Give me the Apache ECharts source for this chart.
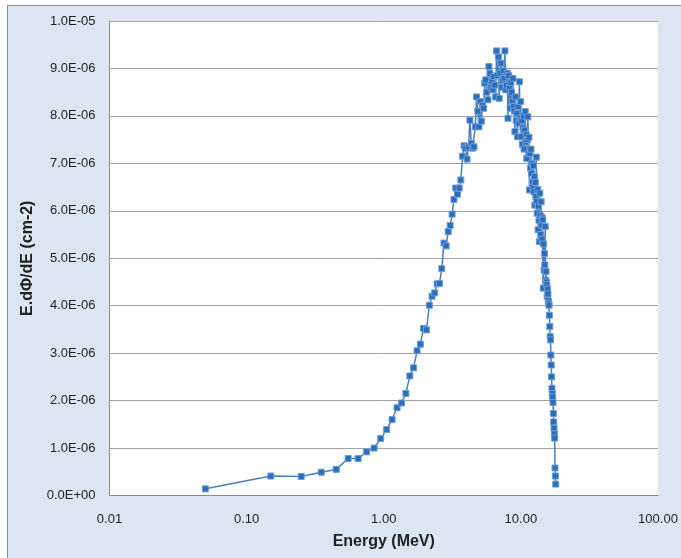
<!DOCTYPE html>
<html>
<head>
    <meta charset="utf-8">
    <title></title>
    <script src="https://cdn.jsdelivr.net/npm/echarts@6/dist/echarts.min.js"></script>
    <style>
        body {
            margin: 0;
            background-color: white;
        }

        .frame {
            position: absolute;
            left: 7px;
            top: 5px;
            width: 700px;
            height: 600px;
            background-color: #dce6f2;
            border-top: 1px solid #8c8c8c;
            border-left: 1px solid #8c8c8c;
        }

        #main {
            position: absolute;
            left: 0;
            top: 0;
            width: 681px;
            height: 558px;
        }
    </style>
</head>
<body>
<div class="frame"></div>
<div id="main"></div>
<script type="text/javascript">
    // 能量 (MeV)
    var energy = [
        0.05, 0.15, 0.25, 0.35, 0.45, 0.55, 0.65, 0.75, 0.85, 0.95,
        1.05, 1.15, 1.25, 1.35, 1.45, 1.55, 1.65, 1.75, 1.85, 1.95,
        2.05, 2.15, 2.25, 2.35, 2.45, 2.55, 2.65, 2.75, 2.85, 2.95,
        3.05, 3.15, 3.25, 3.35, 3.45, 3.55, 3.65, 3.75, 3.85, 3.95,
        4.05, 4.15, 4.25, 4.35, 4.45, 4.55, 4.65, 4.75, 4.85, 4.95,
        5.05, 5.15, 5.25, 5.35, 5.45, 5.55, 5.65, 5.75, 5.85, 5.95,
        6.05, 6.15, 6.25, 6.35, 6.45, 6.55, 6.65, 6.75, 6.85, 6.95,
        7.05, 7.15, 7.25, 7.35, 7.45, 7.55, 7.65, 7.75, 7.85, 7.95,
        8.05, 8.15, 8.25, 8.35, 8.45, 8.55, 8.65, 8.75, 8.85, 8.95,
        9.05, 9.15, 9.25, 9.35, 9.45, 9.55, 9.65, 9.75, 9.85, 9.95,
        10.05, 10.15, 10.25, 10.35, 10.45, 10.55, 10.65, 10.75, 10.85, 10.95,
        11.05, 11.15, 11.25, 11.35, 11.45, 11.55, 11.65, 11.75, 11.85, 11.95,
        12.05, 12.15, 12.25, 12.35, 12.45, 12.55, 12.65, 12.75, 12.85, 12.95,
        13.05, 13.15, 13.25, 13.35, 13.45, 13.55, 13.65, 13.75, 13.85, 13.95,
        14.05, 14.15, 14.25, 14.35, 14.45, 14.55, 14.65, 14.75, 14.85, 14.95,
        15.05, 15.15, 15.25, 15.35, 15.45, 15.55, 15.65, 15.75, 15.85, 15.95,
        16.05, 16.15, 16.25, 16.35, 16.45, 16.55, 16.65, 16.75, 16.85, 16.95,
        17.05, 17.15, 17.25, 17.35, 17.45, 17.55, 17.65, 17.75, 17.85, 17.95
    ];

    // E.dΦ/dE，单位 1E-06 cm-2
    var flux = [
        0.14, 0.41, 0.40, 0.49, 0.55, 0.78, 0.78, 0.92, 1.00, 1.20,
        1.39, 1.60, 1.85, 1.95, 2.15, 2.52, 2.69, 3.05, 3.19, 3.52,
        3.49, 4.01, 4.20, 4.27, 4.46, 4.47, 4.78, 5.32, 5.26, 5.56,
        5.69, 5.93, 6.24, 6.48, 6.35, 6.48, 6.65, 7.15, 7.37, 7.32,
        7.09, 7.34, 7.91, 7.42, 7.32, 7.35, 7.77, 8.40, 8.10, 7.77,
        8.30, 7.89, 8.22, 8.16, 8.69, 8.76, 8.50, 8.34, 9.04, 8.90,
        8.60, 8.72, 8.55, 8.83, 8.65, 8.40, 9.37, 8.85, 9.24, 8.37,
        8.90, 9.11, 8.60, 8.75, 8.95, 8.80, 9.37, 8.55, 8.65, 8.90,
        7.95, 8.85, 8.60, 8.16, 8.70, 8.50, 8.30, 8.79, 8.20, 8.10,
        7.67, 8.40, 7.90, 8.05, 7.56, 8.20, 7.85, 8.72, 7.95, 8.30,
        7.56, 7.90, 7.40, 7.75, 8.00, 7.30, 7.70, 8.09, 7.45, 7.60,
        7.10, 7.50, 7.98, 7.20, 7.55, 6.44, 7.21, 6.90, 7.30, 6.79,
        7.00, 6.60, 6.50, 6.95, 6.40, 6.72, 6.12, 6.60, 6.30, 7.13,
        6.20, 5.95, 6.45, 5.60, 6.10, 5.80, 5.35, 6.37, 5.90, 5.50,
        6.19, 5.70, 5.40, 5.85, 5.81, 4.37, 5.30, 4.75, 5.10, 4.86,
        5.67, 4.54, 4.72, 4.50, 4.44, 4.19, 4.35, 4.25, 4.10, 4.05,
        4.01, 3.80, 3.56, 3.35, 3.28, 2.96, 2.75, 2.50, 2.26, 2.15,
        2.08, 1.96, 1.73, 1.55, 1.42, 1.30, 1.21, 0.58, 0.41, 0.24
    ];

    var xTicks = [0.01, 0.1, 1, 10, 100];

    var points = [];
    for (var i = 0; i < energy.length; i++) {
        points.push([energy[i], flux[i]]);
    }

    // 科学计数法标签 1.0E-05
    function sciLabel(v) {
        if (v === 0) {
            return '0.0E+00';
        }
        var s = (v * 1e-6).toExponential(1).split('e');
        var e = parseInt(s[1], 10);
        var sign = e < 0 ? '-' : '+';
        var a = Math.abs(e);
        return s[0] + 'E' + sign + (a < 10 ? '0' + a : a);
    }

    var chart = echarts.init(document.getElementById('main'), null, {renderer: 'canvas'});
    var option = {
        backgroundColor: 'transparent',
        textStyle: {
            fontFamily: 'Liberation Sans'
        },
        grid: {
            left: 109.5,
            right: 23,
            top: 21,
            bottom: 62.5,
            show: true,
            backgroundColor: '#ffffff',
            borderWidth: 0
        },
        xAxis: {
            type: 'log',
            logBase: 10,
            min: xTicks[0],
            max: xTicks[xTicks.length - 1],
            name: 'Energy (MeV)',
            nameLocation: 'middle',
            nameGap: 38,
            nameTextStyle: {
                fontSize: 16,
                fontWeight: 'bold',
                color: '#222'
            },
            axisLine: {
                lineStyle: {color: '#8a8a8a', width: 1}
            },
            axisTick: {show: false},
            splitLine: {show: false},
            minorTick: {show: false},
            axisLabel: {
                margin: 17,
                fontSize: 13,
                color: '#222',
                formatter: function (v) {
                    return v.toFixed(2);
                }
            }
        },
        yAxis: {
            type: 'value',
            min: 0,
            max: 10,
            interval: 1,
            name: 'E.dΦ/dE (cm-2)',
            nameLocation: 'middle',
            nameRotate: 90,
            nameGap: 71,
            nameTextStyle: {
                fontSize: 16,
                fontWeight: 'bold',
                color: '#222'
            },
            axisLine: {
                show: true,
                lineStyle: {color: '#8a8a8a', width: 1}
            },
            axisTick: {show: false},
            splitLine: {
                lineStyle: {color: '#a3a3a3', width: 1}
            },
            axisLabel: {
                margin: 14,
                fontSize: 13,
                color: '#222',
                formatter: sciLabel
            }
        },
        series: [{
            type: 'line',
            data: points,
            symbol: 'rect',
            symbolSize: 6,
            showAllSymbol: true,
            lineStyle: {
                color: '#4a7ebb',
                width: 1.5
            },
            itemStyle: {
                color: '#2a6ebb',
                borderColor: '#6f9dd6',
                borderWidth: 1
            },
            animation: false
        }]
    };
    chart.setOption(option);
</script>
</body>
</html>
